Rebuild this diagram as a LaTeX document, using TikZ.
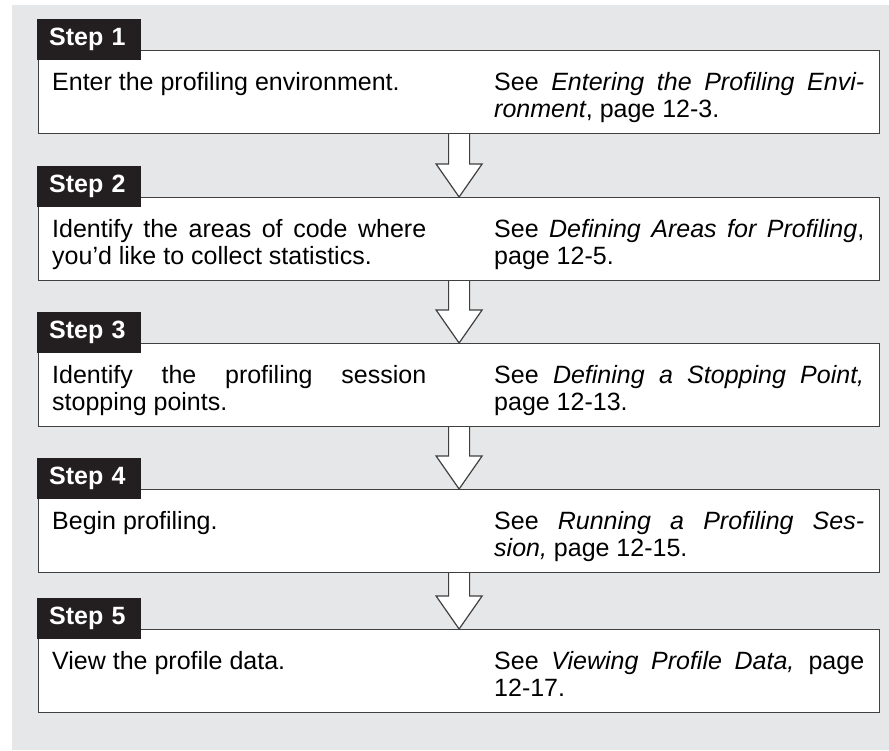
\documentclass[tikz,border=0pt]{standalone}
\usepackage{fontspec}
\setmainfont{Liberation Sans}
\usetikzlibrary{calc,positioning}
\definecolor{panelgray}{RGB}{230,231,232}
\definecolor{framegray}{RGB}{64,64,64}
\definecolor{tabblack}{RGB}{35,31,32}
\pgfdeclarelayer{panel}
\pgfdeclarelayer{flow}
\pgfsetlayers{panel,flow,main}

\begin{document}
\begin{tikzpicture}[
    x=1pt, y=-1pt,
    stepbox/.style={draw=framegray, line width=1.2pt, fill=white, anchor=north west,
      minimum width=841pt, minimum height=83pt, inner sep=0pt},
    steptab/.style={fill=tabblack, text=white, font=\fontsize{25}{30}\selectfont\bfseries,
      anchor=north west, minimum height=41pt, inner xsep=12pt, inner ysep=0pt,
      text width=80pt, align=left},
    cell/.style={anchor=north west, inner sep=0pt, align=justify, font=\fontsize{25}{27}\selectfont},
    leftcell/.style={cell, text width=374pt},
    rightcell/.style={cell, text width=370pt},
    flowarrow/.style={draw=framegray, line width=1.2pt, fill=white, line join=miter}
  ]
    \useasboundingbox (0,0) rectangle (889,750);
    \begin{pgfonlayer}{panel}
      \fill[panelgray] (12,5) rectangle (889,750);
    \end{pgfonlayer}

    % boxes and their tabs
    \foreach \n/\top in {1/50,2/197,3/343,4/489,5/629} {
      \node[stepbox] (s\n) at (38,\top) {};
      \node[steptab] (t\n) at ($(s\n.north west)+(-1,-31)$) {Step \n};
    }

    \node[leftcell] (d1) at ($(s1.north west)+(14,22)$) {Enter the profiling environment.};
    \node[rightcell] (r1) at ($(s1.north west)+(456,22)$) {See \textit{Entering the Profiling Envi-}\linebreak
      \textit{ronment}, page 12-3.};
    \node[leftcell] (d2) at ($(s2.north west)+(14,22)$) {Identify the areas of code where\linebreak
      you’d like to collect statistics.};
    \node[rightcell] (r2) at ($(s2.north west)+(456,22)$) {See \textit{Defining Areas for Profiling},\linebreak
      page 12-5.};
    \node[leftcell] (d3) at ($(s3.north west)+(14,22)$) {Identify the profiling session\linebreak
      stopping points.};
    \node[rightcell] (r3) at ($(s3.north west)+(456,22)$) {See \textit{Defining a Stopping Point,}\linebreak
      page 12-13.};
    \node[leftcell] (d4) at ($(s4.north west)+(14,22)$) {Begin profiling.};
    \node[rightcell] (r4) at ($(s4.north west)+(456,22)$) {See \textit{Running a Profiling Ses-}\linebreak
      \textit{sion,} page 12-15.};
    \node[leftcell] (d5) at ($(s5.north west)+(14,22)$) {View the profile data.};
    \node[rightcell] (r5) at ($(s5.north west)+(456,22)$) {See \textit{Viewing Profile Data,} page\linebreak
      12-17.};

    % block arrows between the steps
    \begin{pgfonlayer}{flow}
      \foreach \a/\b in {s1/s2,s2/s3,s3/s4,s4/s5}
        \filldraw[flowarrow] ($(\a.south)+(-10.5,0)$) -- ($(\b.north)+(-10.5,-33)$)
          -- ($(\b.north)+(-23,-33)$) -- (\b.north) -- ($(\b.north)+(23,-33)$)
          -- ($(\b.north)+(10.5,-33)$) -- ($(\a.south)+(10.5,0)$);
    \end{pgfonlayer}
  \end{tikzpicture}
\end{document}
